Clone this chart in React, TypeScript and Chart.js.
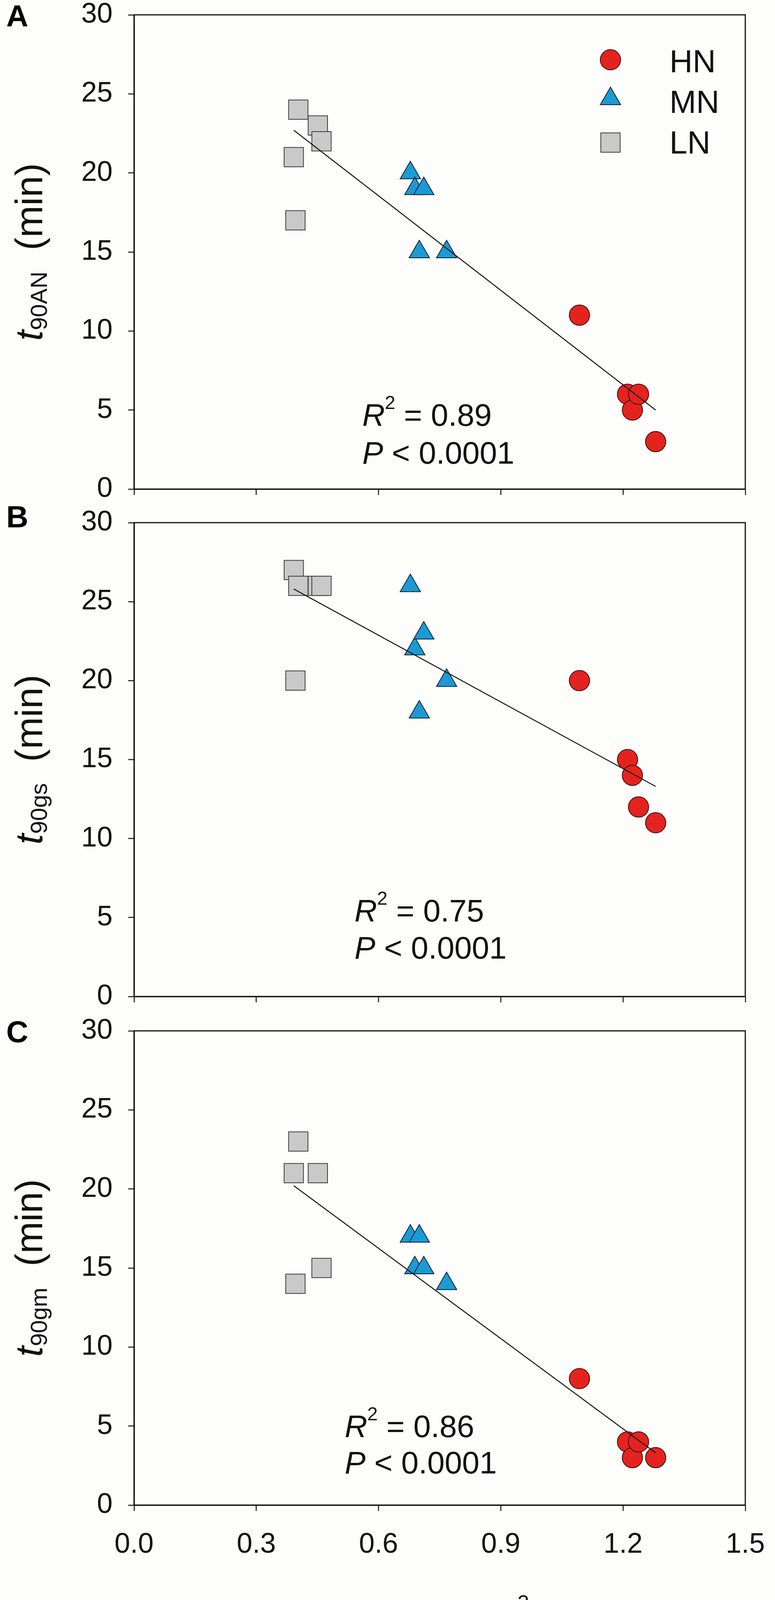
import React, { useEffect, useRef } from 'react';
import { Chart, registerables } from 'chart.js';

Chart.register(...registerables);

const FAM = '"Liberation Sans", Arial, Helvetica, sans-serif';

// ---- data ----
const SERIES = ['HN', 'MN', 'LN'];
const LN_X = [0.392, 0.396, 0.403, 0.451, 0.46];
const MN_X = [0.678, 0.689, 0.7, 0.711, 0.767];
const HN_X = [1.093, 1.211, 1.223, 1.238, 1.28];

const A_HN = [11, 6, 5, 6, 3];
const A_MN = [20, 19, 15, 19, 15];
const A_LN = [21, 17, 24, 23, 22];

const B_HN = [20, 15, 14, 12, 11];
const B_MN = [26, 22, 18, 23, 20];
const B_LN = [27, 20, 26, 26, 26];

const C_HN = [8, 4, 3, 4, 3];
const C_MN = [17, 15, 17, 15, 14];
const C_LN = [21, 14, 23, 21, 15];

const FIT_X = [0.392, 1.28];
const A_FIT = [22.7, 5.0];
const B_FIT = [25.8, 13.3];
const C_FIT = [20.2, 3.3];

const Y_TICKS = [0, 5, 10, 15, 20, 25, 30];
const X_TICKS = [0, 0.3, 0.6, 0.9, 1.2, 1.5];
const R2_TEXT = ['0.89', '0.75', '0.86'];
const P_TEXT = ' < 0.0001';
const Y_SUBS = ['90AN', '90gs', '90gm'];
const LETTERS = ['A', 'B', 'C'];

// ---- styles ----
const STYLE: Record<string, any> = {
  HN: { pointStyle: 'circle', radius: 26, bg: '#E4231F', border: '#3a0c0a' },
  MN: { pointStyle: 'triangle', radius: 30, bg: '#1B9AD6', border: '#0f1f29' },
  LN: { pointStyle: 'rect', radius: 35, bg: '#C9C9C9', border: '#3a3a3a' },
};

type Run = { t: string; font: string; dy?: number };

function runsWidth(ctx: CanvasRenderingContext2D, runs: Run[]) {
  let w = 0;
  for (const r of runs) {
    ctx.font = r.font;
    w += ctx.measureText(r.t).width;
  }
  return w;
}
function drawRuns(ctx: CanvasRenderingContext2D, runs: Run[], x: number, y: number) {
  let cx = x;
  for (const r of runs) {
    ctx.font = r.font;
    ctx.fillText(r.t, cx, y + (r.dy || 0));
    cx += ctx.measureText(r.t).width;
  }
}

function drawMarker(ctx: CanvasRenderingContext2D, key: string, x: number, y: number) {
  const s = STYLE[key];
  const r = s.radius;
  ctx.beginPath();
  if (s.pointStyle === 'circle') {
    ctx.arc(x, y, r, 0, Math.PI * 2);
  } else if (s.pointStyle === 'triangle') {
    let rad = 0;
    ctx.moveTo(x + Math.sin(rad) * r, y - Math.cos(rad) * r);
    rad += (2 * Math.PI) / 3;
    ctx.lineTo(x + Math.sin(rad) * r, y - Math.cos(rad) * r);
    rad += (2 * Math.PI) / 3;
    ctx.lineTo(x + Math.sin(rad) * r, y - Math.cos(rad) * r);
    ctx.closePath();
  } else {
    const h = Math.SQRT1_2 * r;
    ctx.rect(x - h, y - h, 2 * h, 2 * h);
  }
  ctx.fillStyle = s.bg;
  ctx.fill();
  ctx.strokeStyle = s.border;
  ctx.lineWidth = 2;
  ctx.stroke();
}

type PanelCfg = {
  idx: number;
  canvasTop: number;
  canvasH: number;
  areaTop: number;
  areaBottom: number;
  letterBase: number;
  hn: number[];
  mn: number[];
  ln: number[];
  fit: number[];
  annX: number;
  annY1: number;
  annY2: number;
  showXLabels: boolean;
  legend: boolean;
  xTitleBase?: number;
};

const PANELS: PanelCfg[] = [
  {
    idx: 0, canvasTop: 0, canvasH: 1280, areaTop: 38, areaBottom: 1252, letterBase: 68,
    hn: A_HN, mn: A_MN, ln: A_LN, fit: A_FIT, annX: 0.56, annY1: 4.0, annY2: 1.6,
    showXLabels: false, legend: true,
  },
  {
    idx: 1, canvasTop: 1280, canvasH: 1300, areaTop: 1338, areaBottom: 2551, letterBase: 1350,
    hn: B_HN, mn: B_MN, ln: B_LN, fit: B_FIT, annX: 0.541, annY1: 4.75, annY2: 2.4,
    showXLabels: false, legend: false,
  },
  {
    idx: 2, canvasTop: 2580, canvasH: 1647, areaTop: 2639, areaBottom: 3853, letterBase: 2668,
    hn: C_HN, mn: C_MN, ln: C_LN, fit: C_FIT, annX: 0.517, annY1: 4.3, annY2: 2.0,
    showXLabels: true, legend: false, xTitleBase: 4186,
  },
];

function Panel({ cfg }: { cfg: PanelCfg }) {
  const ref = useRef<HTMLCanvasElement | null>(null);
  useEffect(() => {
    const canvas = ref.current;
    if (!canvas) return;
    const xHeight = cfg.canvasH - (cfg.areaBottom - cfg.canvasTop);
    const toPts = (xs: number[], ys: number[]) => xs.map((x, i) => ({ x, y: ys[i] }));
    const markerDs = (key: string, ys: number[], xs: number[]) => {
      const s = STYLE[key];
      return {
        label: key,
        data: toPts(xs, ys),
        pointStyle: s.pointStyle,
        pointRadius: s.radius,
        pointHoverRadius: s.radius,
        pointBackgroundColor: s.bg,
        pointBorderColor: s.border,
        pointBorderWidth: 2,
        backgroundColor: s.bg,
        borderColor: s.border,
        showLine: false,
      };
    };

    const decor = {
      id: 'decor' + cfg.idx,
      afterDraw(chart: any) {
        const { ctx, chartArea: a, scales } = chart;
        const xs = scales.x;
        const ys = scales.y;
        ctx.save();
        // frame (top & right sides)
        ctx.strokeStyle = '#111';
        ctx.lineWidth = 3;
        ctx.strokeRect(a.left, a.top, a.right - a.left, a.bottom - a.top);

        ctx.textAlign = 'left';
        ctx.textBaseline = 'alphabetic';

        // panel letter
        ctx.fillStyle = '#000';
        ctx.font = `bold 78px ${FAM}`;
        ctx.fillText(LETTERS[cfg.idx], 16, cfg.letterBase - cfg.canvasTop);

        // statistics annotation
        ctx.fillStyle = '#111';
        const ax = xs.getPixelForValue(cfg.annX);
        drawRuns(ctx, [
          { t: 'R', font: `italic 80px ${FAM}` },
          { t: '2', font: `48px ${FAM}`, dy: -43 },
          { t: ' = ' + R2_TEXT[cfg.idx], font: `80px ${FAM}` },
        ], ax, ys.getPixelForValue(cfg.annY1));
        drawRuns(ctx, [
          { t: 'P', font: `italic 80px ${FAM}` },
          { t: P_TEXT, font: `80px ${FAM}` },
        ], ax, ys.getPixelForValue(cfg.annY2));

        // y-axis title (rotated)
        const yRuns: Run[] = [
          { t: 't', font: `italic 98px ${FAM}` },
          { t: Y_SUBS[cfg.idx], font: `60px ${FAM}`, dy: 12 },
          { t: '  (min)', font: `98px ${FAM}` },
        ];
        ctx.save();
        ctx.translate(108, (a.top + a.bottom) / 2);
        ctx.rotate(-Math.PI / 2);
        const yw = runsWidth(ctx, yRuns);
        drawRuns(ctx, yRuns, -yw / 2, 0);
        ctx.restore();

        // x-axis title
        if (cfg.xTitleBase) {
          const xRuns: Run[] = [
            { t: 'N', font: `italic 104px ${FAM}` },
            { t: 'area', font: `66px ${FAM}`, dy: 30 },
            { t: ' (g m', font: `104px ${FAM}` },
            { t: '-2', font: `54px ${FAM}`, dy: -65 },
            { t: ')', font: `104px ${FAM}` },
          ];
          const xw = runsWidth(ctx, xRuns);
          drawRuns(ctx, xRuns, (a.left + a.right) / 2 - xw / 2, cfg.xTitleBase - cfg.canvasTop);
        }

        // legend
        if (cfg.legend) {
          const ly = [153, 253, 365];
          const tb = [185, 289, 393];
          SERIES.forEach((k, i) => {
            drawMarker(ctx, k, 1562, ly[i] - cfg.canvasTop);
            ctx.fillStyle = '#111';
            ctx.font = `82px ${FAM}`;
            ctx.fillText(k, 1713, tb[i] - cfg.canvasTop);
          });
        }
        ctx.restore();
      },
    };

    const chart = new Chart(canvas, {
      type: 'scatter',
      data: {
        datasets: [
          {
            label: 'fit',
            data: toPts(FIT_X, cfg.fit),
            showLine: true,
            borderColor: '#111',
            borderWidth: 2.5,
            pointRadius: 0,
            pointHoverRadius: 0,
            fill: false,
          } as any,
          markerDs('HN', cfg.hn, HN_X),
          markerDs('MN', cfg.mn, MN_X),
          markerDs('LN', cfg.ln, LN_X),
        ],
      },
      options: {
        responsive: false,
        animation: false,
        devicePixelRatio: 1,
        events: [],
        layout: {
          padding: { top: cfg.areaTop - cfg.canvasTop, right: 76, bottom: 0, left: 0 },
          autoPadding: false,
        } as any,
        plugins: {
          legend: { display: false },
          tooltip: { enabled: false },
          title: { display: false },
        },
        scales: {
          x: {
            type: 'linear',
            position: 'bottom',
            min: 0,
            max: 1.5,
            afterBuildTicks: (s: any) => {
              s.ticks = X_TICKS.map((v) => ({ value: v }));
            },
            afterFit: (s: any) => {
              s.height = xHeight;
              s.paddingLeft = 0;
              s.paddingRight = 0;
            },
            grid: {
              display: true,
              drawOnChartArea: false,
              drawTicks: true,
              tickLength: 15,
              tickWidth: 2.5,
              tickColor: '#111',
            },
            border: { display: true, color: '#111', width: 3 },
            ticks: {
              display: cfg.showXLabels,
              padding: 44,
              color: '#111',
              font: { family: FAM, size: 72 },
              maxRotation: 0,
              autoSkip: false,
              callback: (v: any) => Number(v).toFixed(1),
            },
            title: { display: false },
          },
          y: {
            type: 'linear',
            position: 'left',
            min: 0,
            max: 30,
            afterBuildTicks: (s: any) => {
              s.ticks = Y_TICKS.map((v) => ({ value: v }));
            },
            afterFit: (s: any) => {
              s.width = 343;
              s.paddingTop = 0;
              s.paddingBottom = 0;
            },
            grid: {
              display: true,
              drawOnChartArea: false,
              drawTicks: true,
              tickLength: 15,
              tickWidth: 2.5,
              tickColor: '#111',
            },
            border: { display: true, color: '#111', width: 3 },
            ticks: {
              padding: 40,
              color: '#111',
              font: { family: FAM, size: 72 },
              autoSkip: false,
              callback: (v: any) => String(v),
            },
            title: { display: false },
          },
        },
      } as any,
      plugins: [decor],
    });
    return () => chart.destroy();
  }, [cfg]);

  return (
    <canvas
      ref={ref}
      width={1983}
      height={cfg.canvasH}
      style={{ position: 'absolute', left: 0, top: cfg.canvasTop, width: 1983, height: cfg.canvasH }}
    />
  );
}

export default function App() {
  return (
    <div
      style={{
        position: 'absolute',
        left: 0,
        top: 0,
        width: 1983,
        height: 4227,
        background: '#fdfdfc',
        overflow: 'hidden',
      }}
    >
      {PANELS.map((p) => (
        <Panel key={p.idx} cfg={p} />
      ))}
    </div>
  );
}
